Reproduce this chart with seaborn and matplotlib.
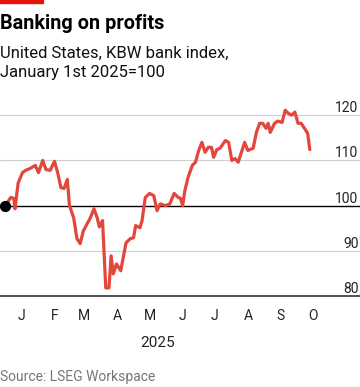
import pandas as pd
import seaborn as sns
import matplotlib.pyplot as plt

# KBW bank index, Jan 1st 2025 = 100
dates = ['2025-01-01', '2025-01-06', '2025-01-09', '2025-01-10', '2025-01-13', '2025-01-17',
         '2025-01-20', '2025-01-24', '2025-01-29', '2025-02-01', '2025-02-05', '2025-02-08',
         '2025-02-12', '2025-02-16', '2025-02-19', '2025-02-22', '2025-02-25', '2025-02-28',
         '2025-03-02', '2025-03-06', '2025-03-09', '2025-03-12', '2025-03-15', '2025-03-19',
         '2025-03-21', '2025-03-25', '2025-03-28', '2025-03-30', '2025-04-02', '2025-04-05',
         '2025-04-08', '2025-04-10', '2025-04-12', '2025-04-15', '2025-04-19', '2025-04-24',
         '2025-04-28', '2025-05-01', '2025-05-03', '2025-05-07', '2025-05-09', '2025-05-12',
         '2025-05-16', '2025-05-20', '2025-05-23', '2025-05-26', '2025-05-31', '2025-06-04',
         '2025-06-08', '2025-06-12', '2025-06-14', '2025-06-16', '2025-06-18', '2025-06-21',
         '2025-06-25', '2025-06-28', '2025-07-01', '2025-07-04', '2025-07-07', '2025-07-10',
         '2025-07-13', '2025-07-15', '2025-07-18', '2025-07-21', '2025-07-26', '2025-07-29',
         '2025-08-01', '2025-08-04', '2025-08-07', '2025-08-10', '2025-08-13', '2025-08-16',
         '2025-08-21', '2025-08-24', '2025-08-27', '2025-08-30', '2025-09-02', '2025-09-04',
         '2025-09-06', '2025-09-10', '2025-09-13', '2025-09-17', '2025-09-20', '2025-09-23',
         '2025-09-26', '2025-09-29', '2025-10-02', '2025-10-05', '2025-10-08', '2025-10-11',
         '2025-10-13']
index = [100, 101.8, 101.6, 99.3, 105, 107.3,
         107.8, 108.2, 108.9, 107.3, 110, 108,
         107.8, 109.8, 107.3, 104, 103.8, 105.8,
         100, 97.3, 92.7, 91.6, 94.4, 96.2,
         97, 99.3, 97.3, 95.3, 96.7, 81.8,
         81.8, 88.9, 84.9, 87.1, 85.6, 91.8,
         92.7, 92.9, 95.6, 95.1, 96.7, 101.8,
         102.7, 102.2, 98.9, 100.4, 100, 100.4,
         102.7, 101.8, 101.6, 100, 103.3, 106.2,
         108.9, 109.6, 112.2, 114, 111.8, 112.9,
         112.9, 110.7, 112.4, 112.7, 114.4, 114,
         110, 110.4, 109.6, 111.8, 114, 112.2,
         112.7, 116.2, 118.2, 118.2, 117.1, 118.2,
         116.2, 118.2, 118.7, 118.4, 121.1, 120.4,
         120, 120.7, 118.2, 118.2, 117.1, 116,
         112.4]
yticks = [80, 90, 100, 110, 120]
month_letters = ['J', 'F', 'M', 'A', 'M', 'J', 'J', 'A', 'S', 'O']

df = pd.DataFrame({'date': pd.to_datetime(dates), 'index': index})

sns.set_style('white')
plt.rcParams['font.family'] = ['Roboto', 'DejaVu Sans']

fig = plt.figure(figsize=(3.6, 3.87), dpi=100)
ax = fig.add_axes([0, 0.235, 1, 0.514])

# gridlines, 100 baseline in black
for y in yticks[1:]:
    ax.axhline(y, color='black' if y == 100 else '#cfcfcf', lw=1.0 if y == 100 else 0.8, zorder=1)

sns.lineplot(data=df, x='date', y='index', color='#e3463c', lw=2.3, ax=ax, zorder=3)
ax.scatter(df['date'].iloc[0], 100, s=50, color='black', zorder=4, clip_on=False)

ax.set_xlim(pd.Timestamp('2024-12-27'), pd.Timestamp('2025-11-29'))
ax.set_ylim(80, 124)

for side in ['top', 'left', 'right']:
    ax.spines[side].set_visible(False)
ax.spines['bottom'].set_color('#222222')
ax.spines['bottom'].set_linewidth(1.1)

# x ticks: month starts plus last data point, letters mid-month
major = list(pd.date_range('2025-01-01', '2025-10-01', freq='MS')) + [df['date'].iloc[-1]]
ax.set_xticks(major)
ax.set_xticklabels([''] * len(major))
mids = [d + pd.Timedelta(days=15) for d in pd.date_range('2025-01-01', '2025-10-01', freq='MS')]
ax.set_xticks(mids, minor=True)
ax.set_xticklabels(month_letters, minor=True)
ax.tick_params(axis='x', which='major', direction='out', length=5, width=0.9, color='#222222')
ax.tick_params(axis='x', which='minor', length=0, pad=9, labelsize=10, labelcolor='#222222')

ax.set_yticks(yticks)
ax.yaxis.tick_right()
ax.tick_params(axis='y', length=0, pad=-1, labelsize=10, labelcolor='#222222')
for lab in ax.get_yticklabels():
    lab.set_ha('right')
    lab.set_va('bottom')
ax.set_xlabel('')
ax.set_ylabel('')
ax.grid(False)

fig.text(0.437, 0.104, '2025', ha='center', va='baseline', fontsize=11, color='#222222')
fig.text(0.0, 0.016, 'Source: LSEG Workspace', ha='left', va='baseline', fontsize=10, color='#777777')

fig.text(0.0, 0.925, 'Banking on profits', ha='left', va='baseline', fontsize=14.3, fontweight='bold', color='black')
fig.text(0.0, 0.850, 'United States, KBW bank index,', ha='left', va='baseline', fontsize=12, color='#111111')
fig.text(0.0, 0.800, 'January 1st 2025=100', ha='left', va='baseline', fontsize=12, color='#111111')
fig.patches.append(plt.Rectangle((0, 0.992), 0.12, 0.008, transform=fig.transFigure, color='#e3120b'))

fig.savefig('out.png', dpi=100)
